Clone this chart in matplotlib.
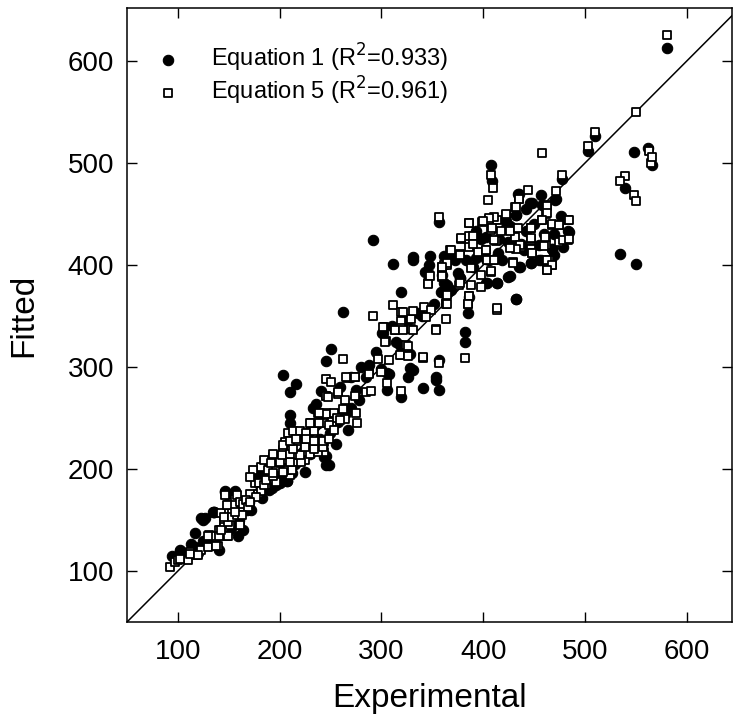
import matplotlib
matplotlib.use("Agg")
from matplotlib import pyplot as plt

# Equation 1 (filled circles): experimental vs fitted
eq1_x = [94, 102, 113, 117, 125, 136, 141, 148, 156, 159, 164, 177, 207, 181, 177, 200,
         207, 197, 181, 146, 156, 135, 127, 125, 102, 117, 123, 136, 146, 170, 185, 190,
         195, 168, 150, 140, 130, 108, 120, 132, 152, 160, 172, 183, 193, 203,
         210, 216, 203, 210, 210, 236, 233, 241, 259, 275, 251, 246, 262, 267, 230, 246,
         249, 225, 244, 246, 220, 230, 215, 255, 260, 270, 250, 238, 225, 200, 190, 212,
         218, 228, 240, 252, 265, 278, 234, 257,
         292, 311, 331, 331, 348, 362, 343, 347, 359, 319, 336, 301, 318, 288, 300, 308,
         328, 357, 326, 354, 306, 331, 306, 319, 341, 354, 357, 302, 314, 319, 328, 382,
         382, 385, 357, 370, 377, 362, 393, 398, 403, 404, 414, 424, 432, 426, 431, 435,
         442, 432, 434, 408, 409, 280, 295, 270, 285, 310, 325, 340, 352, 368, 375, 390,
         435, 446, 442, 432, 422, 396, 403, 416, 431, 364, 372, 383, 393, 406, 419, 436,
         447, 455, 470, 483, 468, 437, 424, 360, 377, 403, 414, 426, 365, 360, 386, 432,
         448, 458, 471, 484, 478, 468, 447, 457, 457, 472, 477, 510, 503, 548, 562, 566,
         539, 534, 550, 581, 450, 460, 440, 470, 415, 455, 476]
eq1_y = [115, 120, 127, 137, 150, 158, 121, 176, 178, 134, 140, 196, 188, 199, 196, 186,
         188, 184, 179, 179, 179, 158, 152, 130, 121, 124, 152, 158, 178, 168, 190, 180,
         195, 160, 140, 135, 128, 115, 118, 126, 142, 150, 160, 172, 182, 190,
         276, 283, 292, 253, 245, 264, 260, 277, 281, 278, 318, 306, 354, 238, 238, 213,
         204, 197, 212, 204, 230, 215, 205, 225, 250, 260, 235, 245, 222, 210, 200, 196,
         214, 222, 230, 240, 255, 268, 226, 246,
         425, 401, 408, 405, 409, 409, 393, 400, 374, 374, 353, 333, 322, 302, 298, 293,
         299, 307, 290, 290, 294, 297, 278, 271, 280, 287, 278, 333, 325, 321, 313, 334,
         325, 353, 442, 408, 387, 382, 433, 426, 406, 382, 382, 388, 367, 438, 421, 398,
         433, 449, 470, 498, 482, 300, 315, 290, 290, 340, 345, 350, 362, 376, 392, 398,
         470, 461, 455, 449, 443, 427, 428, 426, 421, 408, 405, 405, 407, 405, 405, 398,
         402, 405, 410, 433, 416, 421, 423, 390, 387, 382, 382, 389, 380, 374, 369, 367,
         461, 459, 464, 432, 418, 416, 402, 405, 469, 465, 484, 527, 512, 511, 515, 498,
         476, 411, 401, 613, 440, 430, 415, 430, 412, 420, 448]

# Equation 5 (open squares): experimental vs fitted
eq5_x = [92, 97, 100, 110, 112, 118, 123, 130, 102, 112, 120, 131, 136, 141, 145, 148,
         143, 149, 146, 156, 154, 161, 163, 166, 171, 179, 187, 197, 153, 151, 145, 140,
         130, 138, 141, 149, 143, 151, 149, 145, 153, 158, 148, 158, 161, 164, 167, 176,
         180, 169, 182, 177, 171, 163, 156, 161, 185, 187, 194, 210, 207, 197, 200, 207,
         217, 225, 194, 203, 215, 226, 205, 217, 228, 236, 244, 238, 244, 208, 213, 220,
         226, 234, 231, 243, 238, 246, 246, 182, 189, 194, 203, 212, 174, 171, 185, 192,
         200, 210, 221, 194, 202, 210, 220, 230, 238, 203, 213, 225, 234, 243, 210, 216,
         226, 234, 243, 249,
         246, 251, 266, 274, 288, 257, 246, 264, 274, 285, 246, 254, 262, 275, 264, 252,
         239, 230, 276, 262, 248, 257, 239, 256, 249, 259, 254, 265, 274,
         408, 410, 405, 357, 292, 311, 319, 342, 349, 329, 319, 303, 313, 319, 329, 305,
         324, 354, 364, 364, 362, 360, 347, 346, 348, 346, 360, 365, 360, 376, 367, 377,
         378, 386, 386, 399, 406, 414, 422, 431, 435, 444, 386, 395, 403, 413, 408, 416,
         422, 431, 429, 437, 411, 408, 414, 385, 386, 364, 365, 354, 331, 344, 302, 313,
         321, 331, 304, 326, 382, 341, 319, 308, 297, 318, 326, 341, 288, 300, 357, 306,
         319, 290, 321,
         435, 463, 462, 432, 422, 411, 406, 400, 386, 390, 378, 409, 418, 426, 434, 447,
         458, 468, 475, 483, 483, 475, 462, 447, 436, 432, 426, 411, 403, 390, 377, 368,
         365, 360, 404, 411, 429, 447, 462, 465, 468, 463, 388, 398, 408, 360, 377, 388,
         398, 386, 385, 365, 414, 463, 463, 458, 468, 475, 484, 447, 461, 478, 484, 447,
         460, 447, 463, 468, 463, 448, 448, 472, 477, 458, 503, 510, 550, 563, 565, 566,
         539, 534, 548, 550, 581]
eq5_y = [104, 109, 111, 111, 119, 116, 121, 124, 112, 117, 116, 135, 134, 140, 148, 134,
         157, 165, 175, 171, 165, 145, 163, 168, 176, 176, 184, 187, 157, 150, 143, 125,
         134, 125, 134, 134, 140, 145, 148, 153, 153, 155, 165, 175, 168, 166, 170, 186,
         186, 163, 179, 173, 168, 155, 158, 145, 184, 189, 193, 194, 199, 201, 206, 209,
         207, 209, 212, 219, 214, 217, 227, 228, 225, 227, 227, 219, 217, 235, 237, 237,
         235, 237, 245, 245, 255, 255, 272, 202, 199, 196, 197, 199, 199, 192, 209, 206,
         207, 207, 207, 215, 214, 215, 214, 215, 217, 224, 220, 222, 220, 222, 228, 230,
         230, 228, 228, 230,
         288, 285, 289, 290, 294, 274, 272, 268, 272, 276, 254, 255, 259, 255, 249, 246,
         245, 245, 245, 308, 271, 276, 255, 250, 243, 248, 238, 290, 290,
         488, 476, 464, 447, 350, 361, 354, 359, 356, 347, 345, 339, 336, 338, 337, 326,
         322, 337, 347, 363, 400, 390, 390, 382, 389, 381, 398, 400, 388, 380, 415, 411,
         426, 441, 429, 442, 444, 444, 449, 457, 465, 474, 418, 413, 415, 424, 434, 436,
         434, 428, 403, 418, 405, 393, 356, 362, 370, 362, 371, 336, 355, 349, 339, 336,
         336, 336, 325, 321, 309, 309, 312, 307, 308, 312, 311, 310, 293, 295, 304, 284,
         277, 277, 354,
         465, 459, 450, 457, 450, 447, 446, 443, 441, 429, 427, 436, 433, 433, 436, 436,
         444, 439, 439, 444, 425, 423, 428, 426, 420, 416, 417, 425, 415, 421, 410, 415,
         402, 398, 405, 405, 402, 416, 420, 405, 400, 395, 397, 390, 394, 389, 382, 380,
         379, 370, 362, 362, 358, 458, 451, 444, 440, 439, 444, 436, 428, 425, 426, 427,
         419, 416, 405, 400, 395, 412, 412, 473, 488, 510, 517, 530, 550, 512, 500, 506,
         487, 482, 469, 463, 626]

tick_values = [100, 200, 300, 400, 500, 600]

plt.rcParams["font.family"] = ["Liberation Sans", "DejaVu Sans"]

fig = plt.figure(figsize=(7.33, 7.26), dpi=100)
ax = fig.add_axes([0.173, 0.143, 0.825, 0.846])

# 1:1 reference line
ax.plot([50, 660], [50, 660], color="black", lw=1.1, zorder=1)

ax.scatter(eq1_x, eq1_y, s=56, marker="o", facecolor="black", edgecolor="black",
           linewidths=0.8, zorder=2, label="Equation 1 (R$^2$=0.933)")
ax.scatter(eq5_x, eq5_y, s=40, marker="s", facecolor="white", edgecolor="black",
           linewidths=1.3, zorder=3, label="Equation 5 (R$^2$=0.961)")

ax.set_xlim(50, 644)
ax.set_ylim(50, 652)
ax.set_xticks(tick_values)
ax.set_yticks(tick_values)
ax.tick_params(direction="in", length=7, width=1, top=True, right=True,
               labelsize=20)
ax.tick_params(axis="x", pad=12)
ax.tick_params(axis="y", pad=9)
for s in ax.spines.values():
    s.set_linewidth(1.1)

ax.set_xlabel("Experimental", fontsize=24, labelpad=13)
ax.set_ylabel("Fitted", fontsize=24)
ax.yaxis.set_label_coords(-0.145, 0.5)

ax.legend(loc="upper left", bbox_to_anchor=(0.033, 0.961), borderaxespad=0,
          frameon=False, fontsize=17, handlelength=1.0, handletextpad=1.3,
          labelspacing=0.05, scatterpoints=1)

fig.savefig("out.png", dpi=100)
plt.close(fig)
